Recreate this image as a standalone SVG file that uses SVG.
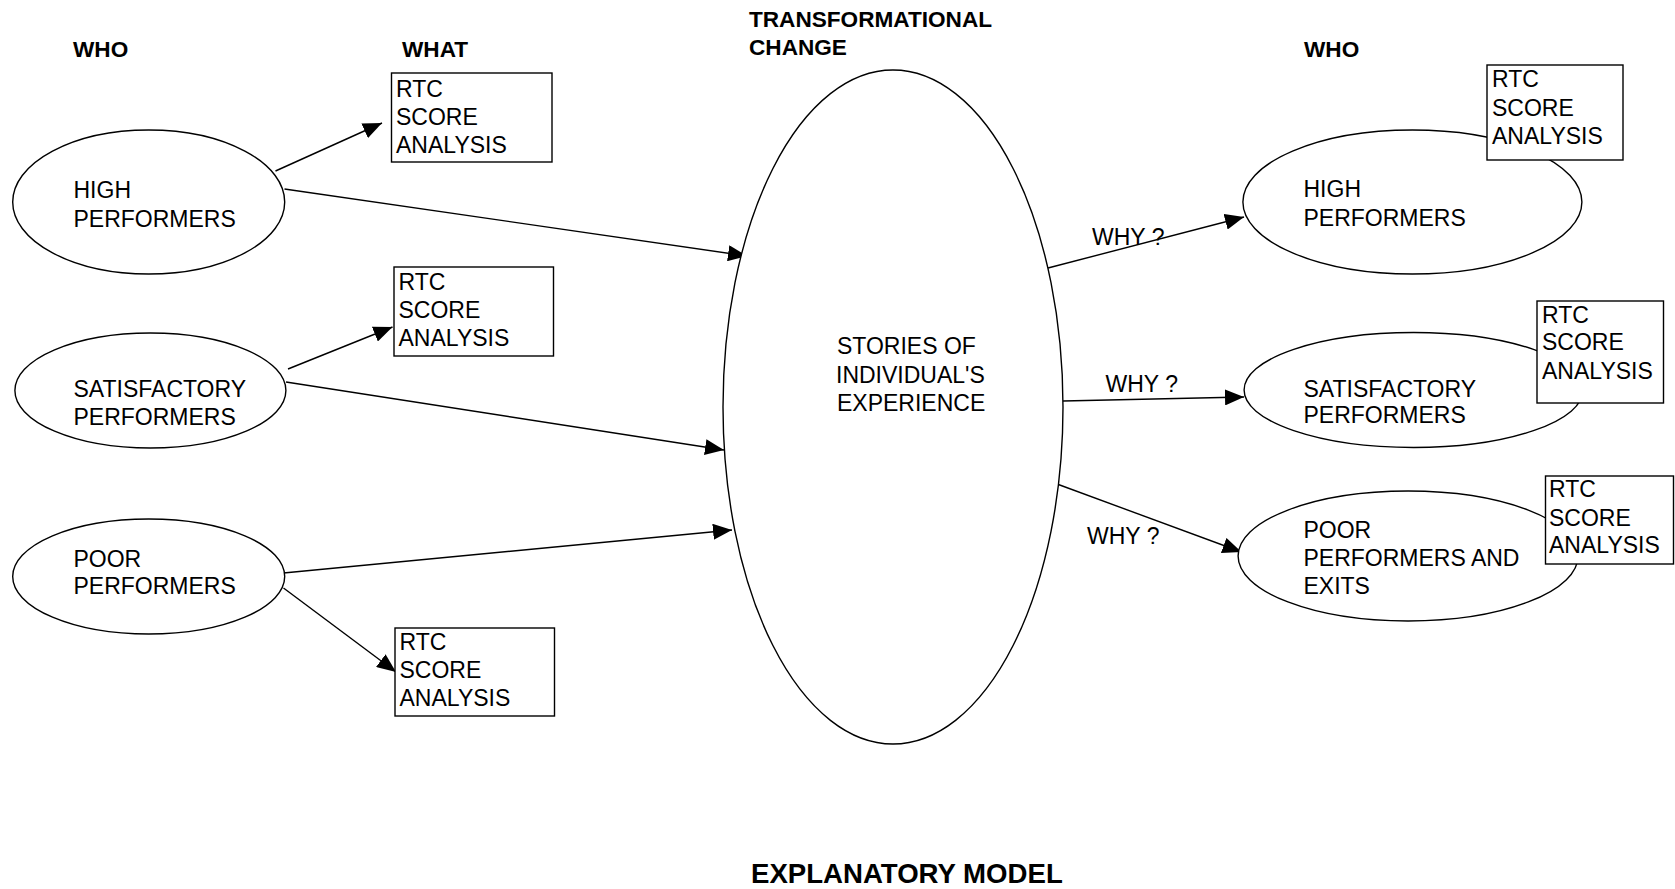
<svg xmlns="http://www.w3.org/2000/svg" width="1675" height="889" viewBox="0 0 1675 889">
  <style>
    .shape { fill: #fff; stroke: #000; stroke-width: 1.4; }
    .label { font-family: "Liberation Sans", Arial, sans-serif; font-size: 23px; fill: #000; }
    .head { font-family: "Liberation Sans", Arial, sans-serif; font-weight: bold; font-size: 22.6px; fill: #000; }
    .title { font-size: 27.6px; }
    .conn { stroke: #000; stroke-width: 1.4; fill: none; marker-end: url(#arrow); }
  </style>
  <defs>
    <marker id="arrow" markerUnits="userSpaceOnUse" markerWidth="19" markerHeight="16" refX="19" refY="8" orient="auto">
      <path d="M0,0 L19,8 L0,16 z" fill="#000"/>
    </marker>
  </defs>
  <rect width="1675" height="889" fill="#fff"/>

  <!-- column headings -->
  <g id="headings">
    <text class="head" x="73" y="57">WHO</text>
    <text class="head" x="402" y="57">WHAT</text>
    <text class="head" x="749" y="27">TRANSFORMATIONAL</text>
    <text class="head" x="749" y="55">CHANGE</text>
    <text class="head" x="1304" y="57">WHO</text>
    <text class="head title" x="751" y="883">EXPLANATORY MODEL</text>
  </g>

  <!-- connectors -->
  <g id="connectors">
    <line class="conn" x1="275.5" y1="171" x2="382" y2="123"/>
    <line class="conn" x1="284.5" y1="189" x2="747" y2="256"/>
    <line class="conn" x1="288" y1="369" x2="392.5" y2="327"/>
    <line class="conn" x1="286" y1="382" x2="724" y2="450"/>
    <line class="conn" x1="283.5" y1="573" x2="732" y2="530"/>
    <line class="conn" x1="283.5" y1="588" x2="396" y2="672"/>
    <line class="conn" x1="1048" y1="268" x2="1244" y2="217"/>
    <line class="conn" x1="1063" y1="401" x2="1244" y2="397"/>
    <line class="conn" x1="1057" y1="484" x2="1241.5" y2="552"/>
  </g>

  <!-- left: who -->
  <g id="left-high">
    <ellipse class="shape" cx="148.7" cy="202" rx="136" ry="72"/>
    <text class="label" x="73.5" y="198">HIGH</text>
    <text class="label" x="73.5" y="227">PERFORMERS</text>
  </g>
  <g id="left-satisfactory">
    <ellipse class="shape" cx="150.4" cy="390.5" rx="135.5" ry="57.5"/>
    <text class="label" x="73.5" y="397">SATISFACTORY</text>
    <text class="label" x="73.5" y="425">PERFORMERS</text>
  </g>
  <g id="left-poor">
    <ellipse class="shape" cx="148.7" cy="576.5" rx="136" ry="57.5"/>
    <text class="label" x="73.5" y="567">POOR</text>
    <text class="label" x="73.5" y="594">PERFORMERS</text>
  </g>

  <!-- left: what -->
  <g id="left-score-high">
    <rect class="shape" x="391.5" y="73" width="160.5" height="89"/>
    <text class="label" x="396" y="97">RTC</text>
    <text class="label" x="396" y="125">SCORE</text>
    <text class="label" x="396" y="153">ANALYSIS</text>
  </g>
  <g id="left-score-satisfactory">
    <rect class="shape" x="394" y="267" width="159.5" height="89"/>
    <text class="label" x="398.5" y="290">RTC</text>
    <text class="label" x="398.5" y="318">SCORE</text>
    <text class="label" x="398.5" y="346">ANALYSIS</text>
  </g>
  <g id="left-score-poor">
    <rect class="shape" x="395" y="628" width="159.5" height="88"/>
    <text class="label" x="399.5" y="650">RTC</text>
    <text class="label" x="399.5" y="678">SCORE</text>
    <text class="label" x="399.5" y="706">ANALYSIS</text>
  </g>

  <!-- centre -->
  <g id="stories">
    <ellipse class="shape" cx="893" cy="407" rx="170" ry="337"/>
    <text class="label" x="837" y="354">STORIES OF</text>
    <text class="label" x="836" y="383">INDIVIDUAL'S</text>
    <text class="label" x="837" y="411">EXPERIENCE</text>
  </g>

  <!-- why labels -->
  <g id="why-labels">
    <text class="label" x="1092" y="245">WHY ?</text>
    <text class="label" x="1105.5" y="392">WHY ?</text>
    <text class="label" x="1087" y="544">WHY ?</text>
  </g>

  <!-- right: who -->
  <g id="right-high">
    <ellipse class="shape" cx="1412.4" cy="202" rx="169.5" ry="72"/>
    <text class="label" x="1303.5" y="197">HIGH</text>
    <text class="label" x="1303.5" y="226">PERFORMERS</text>
  </g>
  <g id="right-satisfactory">
    <ellipse class="shape" cx="1413.6" cy="390" rx="169.5" ry="57.5"/>
    <text class="label" x="1303.5" y="397">SATISFACTORY</text>
    <text class="label" x="1303.5" y="423">PERFORMERS</text>
  </g>
  <g id="right-poor">
    <ellipse class="shape" cx="1408.1" cy="556" rx="170" ry="65"/>
    <text class="label" x="1303.5" y="538">POOR</text>
    <text class="label" x="1303.5" y="566">PERFORMERS AND</text>
    <text class="label" x="1303.5" y="594">EXITS</text>
  </g>

  <!-- right: score boxes over the ellipses -->
  <g id="right-score-high">
    <rect class="shape" x="1487" y="65" width="136" height="95"/>
    <text class="label" x="1492" y="87">RTC</text>
    <text class="label" x="1492" y="116">SCORE</text>
    <text class="label" x="1492" y="144">ANALYSIS</text>
  </g>
  <g id="right-score-satisfactory">
    <rect class="shape" x="1537" y="301" width="126.5" height="102"/>
    <text class="label" x="1542" y="323">RTC</text>
    <text class="label" x="1542" y="350">SCORE</text>
    <text class="label" x="1542" y="379">ANALYSIS</text>
  </g>
  <g id="right-score-poor">
    <rect class="shape" x="1545.5" y="476" width="128" height="88"/>
    <text class="label" x="1549" y="497">RTC</text>
    <text class="label" x="1549" y="526">SCORE</text>
    <text class="label" x="1549" y="553">ANALYSIS</text>
  </g>
</svg>
